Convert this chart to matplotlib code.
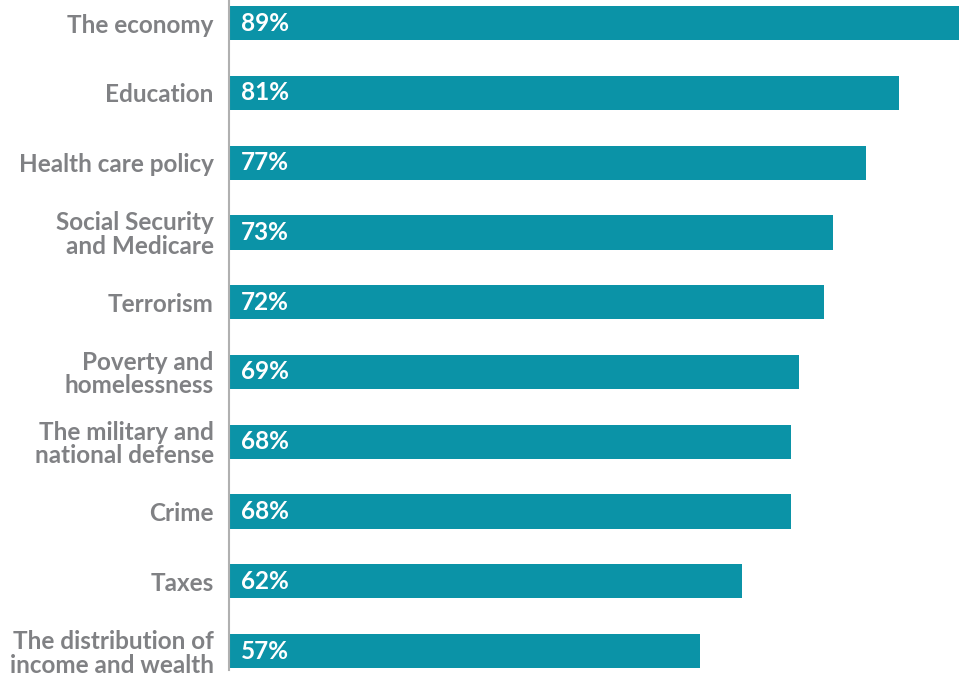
import matplotlib.pyplot as plt

# Categories and shares
categorias = ["The economy", "Education", "Health care policy",
              "Social Security\nand Medicare", "Terrorism",
              "Poverty and\nhomelessness", "The military and\nnational defense",
              "Crime", "Taxes", "The distribution of\nincome and wealth"]
valores = [89, 81, 77, 73, 72, 69, 68, 68, 62, 57]

color_barra = '#0b93a7'
color_texto = '#808184'

fig = plt.figure(figsize=(9.59, 6.75), dpi=100)
ax = fig.add_axes([229 / 959, 5 / 675, 730 / 959, 670 / 675])

y = list(range(len(categorias)))
ax.barh(y, valores, height=0.49, color=color_barra)

for i, v in enumerate(valores):
    ax.text(1.4, i, f"{v}%", color='white', fontsize=17.5, fontweight='bold',
            family='Lato', va='center', ha='left')

ax.set_xlim(0, 88.3)
ax.set_ylim(9.27, -0.33)
ax.set_yticks(y)
ax.set_yticklabels(categorias, fontsize=17.5, fontweight='bold', family='Lato',
                   color=color_texto, linespacing=1.02)
ax.tick_params(axis='y', length=0, pad=11)
ax.set_xticks([])

for lado in ['top', 'right', 'bottom']:
    ax.spines[lado].set_visible(False)
ax.spines['left'].set_color('#b0b0b0')
ax.spines['left'].set_linewidth(1.5)

fig.savefig('out.png', dpi=100)
